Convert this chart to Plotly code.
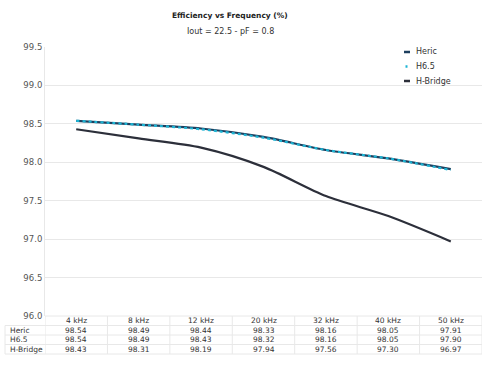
import plotly.graph_objects as go

categories = ["4 kHz", "8 kHz", "12 kHz", "20 kHz", "32 kHz", "40 kHz", "50 kHz"]
heric = [98.54, 98.49, 98.44, 98.33, 98.16, 98.05, 97.91]
h65 = [98.54, 98.49, 98.43, 98.32, 98.16, 98.05, 97.90]
hbridge = [98.43, 98.31, 98.19, 97.94, 97.56, 97.30, 96.97]
series_names = ["Heric", "H6.5", "H-Bridge"]
series_values = [heric, h65, hbridge]
series_colors = ["#1d3f5e", "#1cb4d4", "#2c2f3a"]

W, H = 488, 366
L, R, T, B = 45, 6, 47, 50
FONT = "Verdana, DejaVu Sans, sans-serif"
TXT = "#333333"
TICK = "#555555"
GRID = "#e8e8e8"
PW, PH = W - L - R, H - T - B


def px_x(xpx):
    return (xpx - L) / PW


def px_y(ypx):
    return (H - B - ypx) / PH


xs = list(range(len(categories)))
fig = go.Figure()
dashes = ["solid", "dot", "solid"]
widths = [2.2, 2.2, 2.2]
for name, vals, col, d, w in zip(series_names, series_values, series_colors, dashes, widths):
    fig.add_trace(go.Scatter(x=xs, y=vals, name=name, mode="lines", showlegend=False,
                             line=dict(color=col, width=w, dash=d, shape="spline", smoothing=0.8)))

shapes = []
annotations = []

# custom compact legend
leg_y = [52, 66.5, 81]
for name, col, yy in zip(series_names, series_colors, leg_y):
    if name == "H6.5":
        shapes.append(dict(type="line", xref="paper", yref="paper", x0=px_x(405.5), x1=px_x(407.5),
                           y0=px_y(yy), y1=px_y(yy), line=dict(color=col, width=2.5)))
    else:
        shapes.append(dict(type="line", xref="paper", yref="paper", x0=px_x(404), x1=px_x(410),
                           y0=px_y(yy), y1=px_y(yy), line=dict(color=col, width=2.5)))
    annotations.append(dict(x=px_x(414), y=px_y(yy), xref="paper", yref="paper", text=name,
                            xanchor="left", yanchor="middle", showarrow=False,
                            font=dict(family=FONT, size=8, color=TXT)))

# data table
row_lines = [316, 325.5, 335, 344.5, 354]
for i, yl in enumerate(row_lines):
    shapes.append(dict(type="line", xref="paper", yref="paper",
                       x0=px_x(5) if i >= 1 else 0, x1=1,
                       y0=px_y(yl), y1=px_y(yl), line=dict(color=GRID, width=1)))
for k in range(len(categories) + 1):
    shapes.append(dict(type="line", xref="x", yref="paper", x0=k - 0.5, x1=k - 0.5,
                       y0=px_y(row_lines[-1]), y1=px_y(row_lines[0]),
                       line=dict(color=GRID, width=1)))
shapes.append(dict(type="line", xref="paper", yref="paper", x0=px_x(5), x1=px_x(5),
                   y0=px_y(row_lines[-1]), y1=px_y(row_lines[1]), line=dict(color=GRID, width=1)))

row_centers = [(row_lines[i] + row_lines[i + 1]) / 2 for i in range(4)]
for j, c in enumerate(categories):
    annotations.append(dict(x=j, y=px_y(row_centers[0]), xref="x", yref="paper", yanchor="middle",
                            text=c, showarrow=False, font=dict(family=FONT, size=7.5, color=TXT)))
for r, (name, vals) in enumerate(zip(series_names, series_values)):
    yc = px_y(row_centers[r + 1])
    annotations.append(dict(x=px_x(8), y=yc, xref="paper", yref="paper", yanchor="middle",
                            text=name, showarrow=False, xanchor="left",
                            font=dict(family=FONT, size=7.5, color=TXT)))
    for j, v in enumerate(vals):
        annotations.append(dict(x=j, y=yc, xref="x", yref="paper", yanchor="middle",
                                text=f"{v:.2f}", showarrow=False,
                                font=dict(family=FONT, size=7.5, color=TXT)))

annotations.append(dict(x=px_x(230), y=px_y(16), xref="paper", yref="paper", yanchor="middle",
                        text="<b>Efficiency vs Frequency (%)</b>", showarrow=False,
                        font=dict(family=FONT, size=7.5, color="#222222")))
annotations.append(dict(x=px_x(230), y=px_y(32), xref="paper", yref="paper", yanchor="middle",
                        text="Iout = 22.5 - pF = 0.8", showarrow=False,
                        font=dict(family=FONT, size=8, color=TXT)))

fig.update_layout(
    width=W, height=H,
    margin=dict(l=L, r=R, t=T, b=B, autoexpand=False),
    paper_bgcolor="white", plot_bgcolor="white",
    font=dict(family=FONT, size=8, color=TXT),
    showlegend=False,
    xaxis=dict(range=[-0.5, 6.5], showticklabels=False, showgrid=False, zeroline=False,
               showline=False, fixedrange=True),
    yaxis=dict(range=[96, 99.5], dtick=0.5, tickformat=".1f", showgrid=True, gridcolor=GRID,
               zeroline=False, showline=True, linecolor=GRID, ticks="", ticklen=0,
               automargin=False, tickfont=dict(family=FONT, size=8.5, color=TICK)),
    shapes=shapes, annotations=annotations,
)
fig.write_html("out.html", config={"displayModeBar": False},
               post_script="document.body.style.margin='0';document.body.style.padding='0';")
